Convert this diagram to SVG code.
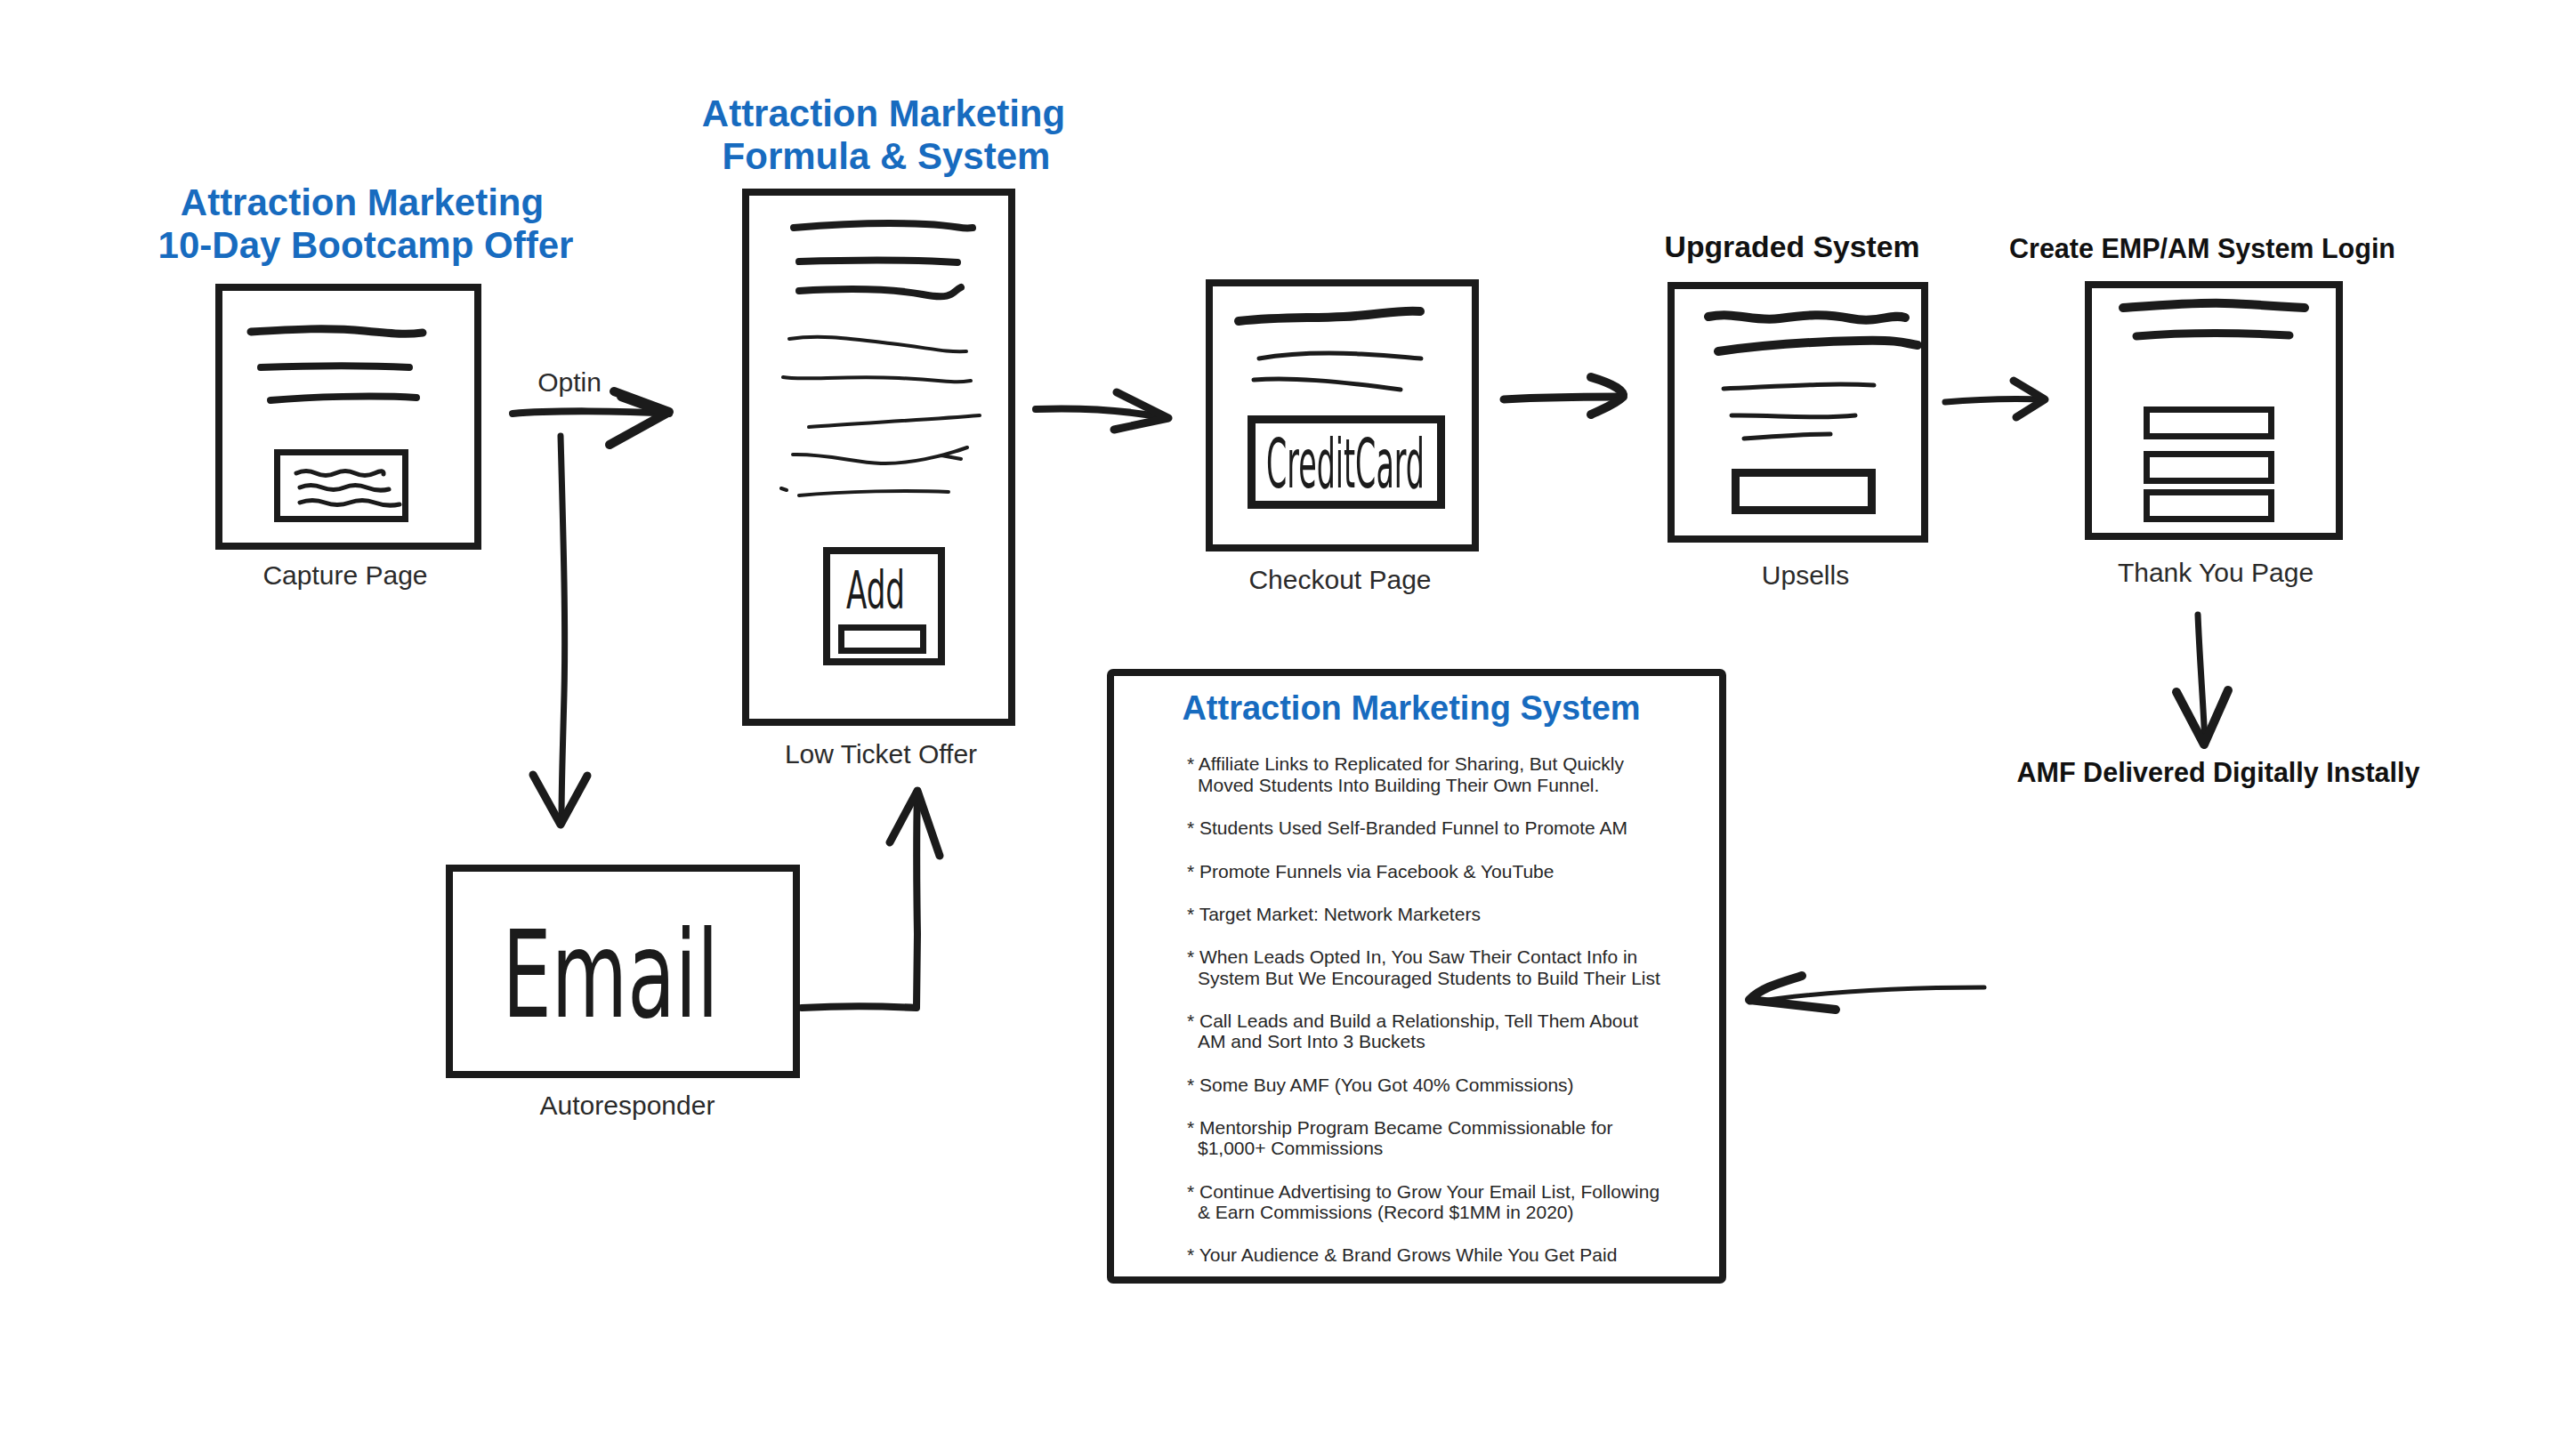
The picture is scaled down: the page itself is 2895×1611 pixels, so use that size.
<svg xmlns="http://www.w3.org/2000/svg" width="2895" height="1611" viewBox="0 0 2895 1611">
<defs>
<style>
.bg{fill:#ffffff}
.box{fill:none;stroke:#1b1b1b;stroke-width:8;stroke-linejoin:miter}
.ink{fill:none;stroke:#1b1b1b;stroke-linecap:round;stroke-linejoin:round}
.w10{stroke-width:10}
.w9{stroke-width:9}
.w8{stroke-width:8}
.w7{stroke-width:7}
.w5{stroke-width:5}
.w4{stroke-width:4}
.blue{font-family:"Liberation Sans",Arial,sans-serif;font-weight:bold;fill:#176bbf;text-anchor:middle}
.blk{font-family:"Liberation Sans",Arial,sans-serif;font-weight:bold;fill:#111111;text-anchor:middle}
.lbl{font-family:"Liberation Sans",Arial,sans-serif;font-size:30px;fill:#2a2a2a;text-anchor:middle}
.hand{font-family:"Liberation Sans Narrow","DejaVu Sans Condensed","Liberation Sans",sans-serif;fill:#1b1b1b;text-anchor:middle}
.bul{font-family:"Liberation Sans",Arial,sans-serif;font-size:21px;fill:#262626}
</style>
</defs>
<rect class="bg" x="0" y="0" width="2895" height="1611"/>

<g id="capture-page">
  <text class="blue" x="407" y="242" font-size="42">Attraction Marketing</text>
  <text class="blue" x="411" y="290" font-size="42">10-Day Bootcamp Offer</text>
  <rect class="box" x="246" y="323" width="291" height="291"/>
  <path class="ink w9" d="M282,373 C330,370 370,368 410,372 S460,376 475,374"/>
  <path class="ink w8" d="M293,413 C350,411 420,411 460,413"/>
  <path class="ink w8" d="M304,450 C350,446 420,444 468,447"/>
  <rect class="box" x="311.5" y="508.5" width="144" height="75" style="stroke-width:7"/>
  <path class="ink w5" d="M333,532 q11,-5 22,0 t22,0 t22,0 t22,0 t10,1"/>
  <path class="ink w5" d="M337,548 q12,-5 25,0 t25,0 t25,0 t25,2"/>
  <path class="ink w5" d="M337,565 q14,-5 28,0 t28,0 t28,0 t28,2"/>
  <text class="lbl" x="388" y="657">Capture Page</text>
</g>

<g id="low-ticket-offer">
  <text class="blue" x="993" y="142" font-size="42">Attraction Marketing</text>
  <text class="blue" x="996" y="190" font-size="42">Formula &amp; System</text>
  <rect class="box" x="838" y="216" width="299" height="596"/>
  <path class="ink w8" d="M892,256 C940,252 1000,250 1040,252 S1080,258 1093,256"/>
  <path class="ink w8" d="M898,294 C960,292 1030,292 1076,295"/>
  <path class="ink w8" d="M898,327 C950,324 1000,324 1037,331 S1070,327 1080,323"/>
  <path class="ink w4" d="M887,381 C920,376 950,380 1000,386 S1060,396 1086,395"/>
  <path class="ink w4" d="M880,424 C900,428 950,422 1010,425 S1070,431 1091,428"/>
  <path class="ink w4" d="M909,480 C960,476 1040,472 1101,467"/>
  <path class="ink w4" d="M891,511 C930,510 960,520 990,521 S1060,513 1087,503 M1058,512 L1080,516"/>
  <path class="ink w4" d="M878,549 L884,551 M898,557 C950,552 1020,551 1066,553"/>
  <rect class="box" x="929" y="619" width="129" height="125"/>
  <text class="hand" x="984" y="684" font-size="58" textLength="66" lengthAdjust="spacingAndGlyphs">Add</text>
  <rect class="box" x="945.5" y="705.5" width="92" height="26" style="stroke-width:7"/>
  <text class="lbl" x="990" y="858">Low Ticket Offer</text>
</g>

<g id="checkout-page">
  <rect class="box" x="1359" y="318" width="299" height="298"/>
  <path class="ink w10" d="M1392,361 C1440,356 1470,358 1510,356 S1570,348 1596,350"/>
  <path class="ink w5" d="M1415,403 C1450,397 1490,396 1530,398 S1580,402 1597,403"/>
  <path class="ink w5" d="M1409,427 C1450,424 1500,428 1574,438"/>
  <rect class="box" x="1406.5" y="471.5" width="213" height="96" style="stroke-width:9"/>
  <text class="hand" x="1512" y="548" font-size="76" textLength="178" lengthAdjust="spacingAndGlyphs">CreditCard</text>
  <text class="lbl" x="1506" y="662">Checkout Page</text>
</g>

<g id="upsells">
  <text class="blk" x="2014" y="289" font-size="33" textLength="287" lengthAdjust="spacingAndGlyphs">Upgraded System</text>
  <rect class="box" x="1878" y="321" width="285" height="285"/>
  <path class="ink w10" d="M1920,356 C1950,350 1970,362 2000,358 S2050,352 2080,358 S2125,352 2141,357"/>
  <path class="ink w10" d="M1931,395 C1980,388 2040,384 2090,383 S2140,386 2155,388"/>
  <path class="ink w5" d="M1937,437 C1990,435 2050,430 2106,433"/>
  <path class="ink w5" d="M1946,467 C1990,466 2040,472 2085,467"/>
  <path class="ink w5" d="M1960,493 C2000,490 2030,488 2057,488"/>
  <rect class="box" x="1950.5" y="531.5" width="153" height="42" style="stroke-width:9"/>
  <text class="lbl" x="2029" y="657">Upsells</text>
</g>

<g id="thank-you-page">
  <text class="blk" x="2475" y="290" font-size="31" textLength="434" lengthAdjust="spacingAndGlyphs">Create EMP/AM System Login</text>
  <rect class="box" x="2347" y="320" width="282" height="283"/>
  <path class="ink w10" d="M2386,346 C2430,343 2470,340 2500,341 S2560,344 2590,346"/>
  <path class="ink w9" d="M2401,378 C2450,374 2500,373 2573,377"/>
  <rect class="box" x="2412.5" y="460.5" width="140" height="30" style="stroke-width:7"/>
  <rect class="box" x="2412.5" y="510.5" width="140" height="30" style="stroke-width:7"/>
  <rect class="box" x="2412.5" y="553.5" width="140" height="30" style="stroke-width:7"/>
  <text class="lbl" x="2490" y="654">Thank You Page</text>
</g>

<g id="amf-delivered">
  <text class="blk" x="2493" y="879" font-size="31" textLength="453" lengthAdjust="spacingAndGlyphs">AMF Delivered Digitally Instally</text>
</g>

<g id="autoresponder">
  <rect class="box" x="505" y="976" width="390" height="232"/>
  <text class="hand" x="686" y="1143" font-size="135" textLength="243" lengthAdjust="spacingAndGlyphs">Email</text>
  <text class="lbl" x="705" y="1253">Autoresponder</text>
</g>

<g id="attraction-marketing-system">
  <rect class="box" x="1248" y="756" width="688" height="683" rx="3"/>
  <text class="blue" x="1586" y="809" font-size="38">Attraction Marketing System</text>
  <text class="bul" x="1334" y="866">* Affiliate Links to Replicated for Sharing, But Quickly</text>
  <text class="bul" x="1346" y="890">Moved Students Into Building Their Own Funnel.</text>
  <text class="bul" x="1334" y="938">* Students Used Self-Branded Funnel to Promote AM</text>
  <text class="bul" x="1334" y="987">* Promote Funnels via Facebook &amp; YouTube</text>
  <text class="bul" x="1334" y="1035">* Target Market: Network Marketers</text>
  <text class="bul" x="1334" y="1083">* When Leads Opted In, You Saw Their Contact Info in</text>
  <text class="bul" x="1346" y="1107">System But We Encouraged Students to Build Their List</text>
  <text class="bul" x="1334" y="1155">* Call Leads and Build a Relationship, Tell Them About</text>
  <text class="bul" x="1346" y="1178">AM and Sort Into 3 Buckets</text>
  <text class="bul" x="1334" y="1227">* Some Buy AMF (You Got 40% Commissions)</text>
  <text class="bul" x="1334" y="1275">* Mentorship Program Became Commissionable for</text>
  <text class="bul" x="1346" y="1298">$1,000+ Commissions</text>
  <text class="bul" x="1334" y="1347">* Continue Advertising to Grow Your Email List, Following</text>
  <text class="bul" x="1346" y="1370">&amp; Earn Commissions (Record $1MM in 2020)</text>
  <text class="bul" x="1334" y="1418">* Your Audience &amp; Brand Grows While You Get Paid</text>
</g>

<g id="connectors">
  <text class="lbl" x="640" y="440">Optin</text>
  <path class="ink w8" d="M576,465 C620,461 700,462 752,465"/>
  <path class="ink w10" d="M690,440 L752,463 L685,500 M698,446 L745,463"/>
  <path class="ink w7" d="M630,490 C633,600 636,700 634,780 S631,880 631,925"/>
  <path class="ink w9" d="M599,871 L630,927 L660,872"/>
  <path class="ink w8" d="M901,1133 C940,1131 990,1131 1030,1133 L1031,1050 C1030,990 1030,930 1031,889"/>
  <path class="ink w9" d="M1000,947 L1031,889 L1056,962"/>
  <path class="ink w8" d="M1164,460 C1220,458 1270,462 1312,470"/>
  <path class="ink w9" d="M1255,441 L1313,470 L1252,483"/>
  <path class="ink w9" d="M1690,449 C1740,446 1790,446 1824,446"/>
  <path class="ink w10" d="M1788,424 C1815,432 1826,440 1824,446 C1815,455 1800,460 1788,466"/>
  <path class="ink w7" d="M2186,452 C2230,448 2270,448 2298,449"/>
  <path class="ink w9" d="M2263,428 L2298,449 L2266,469"/>
  <path class="ink w7" d="M2470,691 C2472,740 2476,790 2478,835"/>
  <path class="ink w10" d="M2446,778 L2477,837 L2504,776"/>
  <path class="ink w5" d="M2230,1110 C2150,1110 2050,1114 1966,1127"/>
  <path class="ink w10" d="M2025,1097 C2000,1105 1980,1110 1966,1124 L2063,1135"/>
</g>
</svg>
